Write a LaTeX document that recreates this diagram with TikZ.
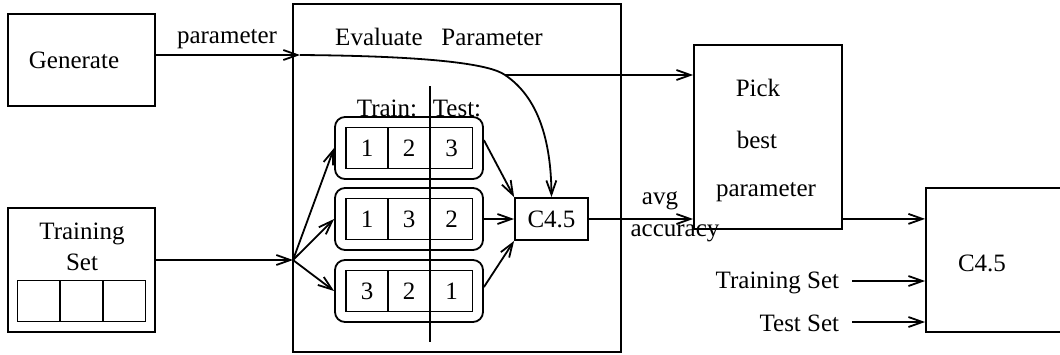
\documentclass[tikz,border=0pt]{standalone}
\usepackage{fontspec}
\setmainfont{Liberation Serif}
\usetikzlibrary{arrows.meta}

\begin{document}
\begin{tikzpicture}[x=0.5pt,y=-0.5pt,line width=0.9pt,
    font=\fontsize{12.5}{15}\selectfont,
    box/.style={draw,inner sep=0pt},
    lbl/.style={inner sep=0pt},
    cell/.style={draw,inner sep=0pt,minimum width=21pt,minimum height=20.5pt},
    rowbox/.style={draw,rounded corners=5pt,inner sep=0pt,minimum width=74pt,minimum height=31pt},
    arr/.style={-{Straight Barb[length=7pt,width=5pt]}}]
        \useasboundingbox (0,0) rectangle (1060,354);

        % left side
        \node (gen) [box,minimum width=73.5pt,minimum height=46pt] at (81.5,60) {};
        \node (genlbl) [lbl] at (74,60) {Generate};
        \node (train) [box,minimum width=73.5pt,minimum height=62pt] at (81.5,270) {};
        \node (trainlbl) [lbl,align=center] at (82,247) {Training\\[0.5pt]Set};
        \node (tcellA) [cell,minimum width=21.5pt] at (39,301) {};
        \node (tcellB) [cell,minimum width=21.5pt] at (81.5,301) {};
        \node (tcellC) [cell,minimum width=21.5pt] at (124,301) {};

        % evaluate parameter
        \node (eval) [box,minimum width=164pt,minimum height=174pt] at (457,178) {};
        \node (evallbl) [lbl] at (439,37) {Evaluate\hspace{0.75em}Parameter};
        \node (trlbl) [lbl,anchor=east] at (418,108) {Train:};
        \node (telbl) [lbl,anchor=west] at (432,108) {Test:};
        \foreach \i/\y/\a/\b/\c in {1/148/1/2/3, 2/219/1/3/2, 3/291/3/2/1} {
            \node (row\i) [rowbox] at (409,\y) {};
            \node (row\i a) [cell] at (367,\y) {\a};
            \node (row\i b) [cell] at (409,\y) {\b};
            \node (row\i c) [cell] at (451.5,\y) {\c};
        }
        \coordinate (cuttop) at (430,86);
        \coordinate (cutbot) at (430,342);
        \draw (cuttop) -- (cutbot);
        \node (c45) [box,minimum width=36.5pt,minimum height=21pt] at (551.5,219) {C4.5};

        % right side
        \node (pick) [box,minimum width=74pt,minimum height=92pt] at (768,137) {};
        \node (pickA) [lbl] at (758,88) {Pick};
        \node (pickB) [lbl] at (757,140) {best};
        \node (pickC) [lbl] at (766,192) {parameter};
        \node (bigc) [box,minimum width=74.5pt,minimum height=72pt] at (1000.5,260) {};
        \node (bigclbl) [lbl] at (982,263) {C4.5};
        \node (tslbl) [lbl,anchor=east] at (840,283) {Training Set};
        \node (testlbl) [lbl,anchor=east] at (840,323) {Test Set};

        % connectors
        \coordinate (parin) at (300,55);
        \coordinate (branch) at (505,75);
        \coordinate (split) at (293,260);
        \coordinate (tsin) at (852,281);
        \coordinate (testin) at (852,322);
        \draw [arr] ([yshift=2.5pt]gen.east) -- (parin);
        \node (parlbl) [lbl] at (227,39) {parameter};
        \draw [arr] (parin) .. controls (430,56) and (490,64) .. (branch)
            .. controls (538,97) and (551,140) .. (c45.north);
        \draw [arr] (branch) -- (branch -| pick.west);
        \draw [arr] ([yshift=5pt]train.east) -- (split);
        \foreach \i in {1,2,3}
            \draw [arr] (split) -- (row\i.west);
        \draw [arr] (row1.6) -- (c45.north west);
        \draw [arr] (row2.east) -- (c45.west);
        \draw [arr] (row3.3) -- (c45.south west);
        \draw [arr] (c45.east) -- (c45.east -| pick.west);
        \node (avglbl) [lbl] at (660,201) {avg};
        \node (acclbl) [lbl] at (675,233) {accuracy};
        \draw [arr] ([yshift=5.5pt]pick.south east) -- ([yshift=5.5pt]pick.south east -| bigc.west);
        \draw [arr] (tsin) -- (tsin -| bigc.west);
        \draw [arr] (testin) -- (testin -| bigc.west);
      \end{tikzpicture}
\end{document}
